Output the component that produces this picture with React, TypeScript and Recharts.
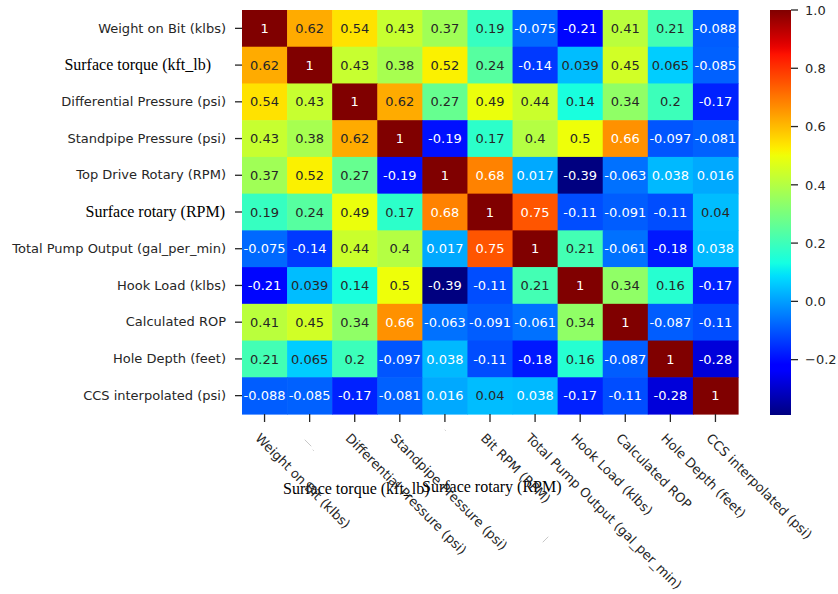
import { ScatterChart, Scatter, XAxis, YAxis, Customized } from "recharts";

const rowLabels = [
  "Weight on Bit (klbs)",
  "Surface torque (kft_lb)",
  "Differential Pressure (psi)",
  "Standpipe Pressure (psi)",
  "Top Drive Rotary (RPM)",
  "Surface rotary (RPM)",
  "Total Pump Output (gal_per_min)",
  "Hook Load (klbs)",
  "Calculated ROP",
  "Hole Depth (feet)",
  "CCS interpolated (psi)",
];

const colLabels = [
  "Weight on Bit (klbs)",
  "",
  "Differential Pressure (psi)",
  "Standpipe Pressure (psi)",
  "",
  "Bit RPM (RPM)",
  "Total Pump Output (gal_per_min)",
  "Hook Load (klbs)",
  "Calculated ROP",
  "Hole Depth (feet)",
  "CCS interpolated (psi)",
];

// rows drawn with the serif face, and where their text ends (px left of the axis)
const serifRows: Record<number, number> = { 1: 31, 5: 17 };

// labels that sit under the x axis in the serif face
const floatingLabels = [
  { text: "Surface torque (kft_lb)", x: 283, y: 494 },
  { text: "Surface rotary (RPM)", x: 422, y: 492 },
];

const corr = [
  [1, 0.62, 0.54, 0.43, 0.37, 0.19, -0.075, -0.21, 0.41, 0.21, -0.088],
  [0.62, 1, 0.43, 0.38, 0.52, 0.24, -0.14, 0.039, 0.45, 0.065, -0.085],
  [0.54, 0.43, 1, 0.62, 0.27, 0.49, 0.44, 0.14, 0.34, 0.2, -0.17],
  [0.43, 0.38, 0.62, 1, -0.19, 0.17, 0.4, 0.5, 0.66, -0.097, -0.081],
  [0.37, 0.52, 0.27, -0.19, 1, 0.68, 0.017, -0.39, -0.063, 0.038, 0.016],
  [0.19, 0.24, 0.49, 0.17, 0.68, 1, 0.75, -0.11, -0.091, -0.11, 0.04],
  [-0.075, -0.14, 0.44, 0.4, 0.017, 0.75, 1, 0.21, -0.061, -0.18, 0.038],
  [-0.21, 0.039, 0.14, 0.5, -0.39, -0.11, 0.21, 1, 0.34, 0.16, -0.17],
  [0.41, 0.45, 0.34, 0.66, -0.063, -0.091, -0.061, 0.34, 1, -0.087, -0.11],
  [0.21, 0.065, 0.2, -0.097, 0.038, -0.11, -0.18, 0.16, -0.087, 1, -0.28],
  [-0.088, -0.085, -0.17, -0.081, 0.016, 0.04, 0.038, -0.17, -0.11, -0.28, 1],
];

const colorbarTicks = [1.0, 0.8, 0.6, 0.4, 0.2, 0.0, -0.2];

const VMIN = -0.39;
const VMAX = 1;

const W = 838;
const H = 594;
const M = { top: 10, right: 100, bottom: 0, left: 0 };
const Y_AXIS_W = 242;
const X_AXIS_H = 180;
const PLOT_W = W - M.left - M.right - Y_AXIS_W;
const PLOT_H = H - M.top - M.bottom - X_AXIS_H;
const N = rowLabels.length;
const CELL_W = PLOT_W / N;
const CELL_H = PLOT_H / N;

const INK = "#262626";
const SANS = "DejaVu Sans, sans-serif";
const SERIF = "Liberation Serif, Times New Roman, serif";
const FS = 13;

// matplotlib "jet" segment data
const JET: Record<string, number[][]> = {
  r: [[0, 0], [0.35, 0], [0.66, 1], [0.89, 1], [1, 0.5]],
  g: [[0, 0], [0.125, 0], [0.375, 1], [0.64, 1], [0.91, 0], [1, 0]],
  b: [[0, 0.5], [0.11, 1], [0.34, 1], [0.65, 0], [1, 0]],
};

function seg(pts: number[][], x: number) {
  for (let i = 1; i < pts.length; i++) {
    if (x <= pts[i][0]) {
      const [x0, y0] = pts[i - 1];
      const [x1, y1] = pts[i];
      return y0 + ((x - x0) / (x1 - x0)) * (y1 - y0);
    }
  }
  return pts[pts.length - 1][1];
}

function jetAt(x: number) {
  return [seg(JET.r, x), seg(JET.g, x), seg(JET.b, x)];
}

function colorFor(v: number) {
  const t = (v - VMIN) / (VMAX - VMIN);
  const idx = Math.min(255, Math.max(0, Math.floor(t * 256)));
  return jetAt(idx / 255);
}

const toCss = (c: number[]) =>
  `rgb(${c.map((k) => Math.round(k * 255)).join(",")})`;

function luminance(c: number[]) {
  const lin = c.map((k) => (k <= 0.03928 ? k / 12.92 : Math.pow((k + 0.055) / 1.055, 2.4)));
  return 0.2126 * lin[0] + 0.7152 * lin[1] + 0.0722 * lin[2];
}

const fmt = (v: number) => String(Number(v.toPrecision(2)));

const cells = corr.flatMap((row, r) =>
  row.map((v, c) => ({ x: c + 0.5, y: r + 0.5, v }))
);

const ticks = rowLabels.map((_, i) => i + 0.5);

function Cell(props: any) {
  const { cx, cy, payload } = props;
  const col = colorFor(payload.v);
  const textFill = luminance(col) > 0.42 ? INK : "#ffffff";
  return (
    <g>
      <rect
        x={cx - CELL_W / 2}
        y={cy - CELL_H / 2}
        width={CELL_W + 0.6}
        height={CELL_H + 0.6}
        fill={toCss(col)}
      />
      <text
        x={cx}
        y={cy}
        dy="0.36em"
        textAnchor="middle"
        fontFamily={SANS}
        fontSize={FS}
        fill={textFill}
      >
        {fmt(payload.v)}
      </text>
    </g>
  );
}

function RowTick(props: any) {
  const { x, y, payload } = props;
  const i = Math.round(payload.value - 0.5);
  const serif = serifRows[i] !== undefined;
  return (
    <g>
      <line x1={x - 7} x2={x} y1={y} y2={y} stroke={INK} strokeWidth={1.3} />
      <text
        x={serif ? x - serifRows[i] : x - 16}
        y={y}
        dy={serif ? "0.33em" : "0.32em"}
        textAnchor="end"
        fontFamily={serif ? SERIF : SANS}
        fontSize={serif ? 16 : FS}
        fill={serif ? "#000" : INK}
      >
        {rowLabels[i]}
      </text>
    </g>
  );
}

function ColTick(props: any) {
  const { x, y, payload } = props;
  const i = Math.round(payload.value - 0.5);
  const label = colLabels[i];
  return (
    <g>
      <line x1={x} x2={x} y1={y} y2={y + 8} stroke={INK} strokeWidth={1.3} />
      {label ? (
        <text
          transform={`translate(${x - 10},${y + 25}) rotate(45)`}
          fontFamily={SANS}
          fontSize={FS}
          fill={INK}
        >
          {label}
        </text>
      ) : null}
    </g>
  );
}

// colour bar to the right of the grid
const CB = { x: 770, y: M.top, w: 21, h: PLOT_H + 1 };

function ColorBar() {
  const stops = Array.from({ length: 65 }, (_, k) => k / 64);
  const yOf = (v: number) => CB.y + ((VMAX - v) / (VMAX - VMIN)) * CB.h;
  return (
    <g>
      <defs>
        <linearGradient id="jetBar" x1="0" y1="1" x2="0" y2="0">
          {stops.map((s) => (
            <stop key={s} offset={s} stopColor={toCss(jetAt(s))} />
          ))}
        </linearGradient>
      </defs>
      <rect x={CB.x} y={CB.y} width={CB.w} height={CB.h} fill="url(#jetBar)" />
      {colorbarTicks.map((t) => (
        <g key={t}>
          <line
            x1={CB.x + CB.w}
            x2={CB.x + CB.w + 7}
            y1={yOf(t)}
            y2={yOf(t)}
            stroke={INK}
            strokeWidth={1.3}
          />
          <text
            x={CB.x + CB.w + 14}
            y={yOf(t)}
            dy="0.36em"
            fontFamily={SANS}
            fontSize={FS}
            fill={INK}
          >
            {t < 0 ? `\u2212${Math.abs(t).toFixed(1)}` : t.toFixed(1)}
          </text>
        </g>
      ))}
      {floatingLabels.map((l) => (
        <text key={l.text} x={l.x} y={l.y} fontFamily={SERIF} fontSize={16} fill="#000">
          {l.text}
        </text>
      ))}
      {/* leftover specks from the hidden tick labels */}
      <g stroke="#c8c8c8" strokeWidth={1} strokeLinecap="round">
        <line x1={305} y1={440} x2={311} y2={446} />
        <line x1={313} y1={450} x2={313.5} y2={450.5} />
        <line x1={445} y1={430} x2={445.5} y2={430.5} />
        <line x1={543} y1={542} x2={548} y2={537} />
      </g>
    </g>
  );
}

export default function App() {
  return (
    <div style={{ position: "absolute", left: 0, top: 0, background: "#fff" }}>
      <ScatterChart width={W} height={H} margin={M}>
        <XAxis
          type="number"
          dataKey="x"
          domain={[0, N]}
          ticks={ticks}
          interval={0}
          height={X_AXIS_H}
          axisLine={false}
          tickLine={false}
          tickSize={0}
          tickMargin={0}
          tick={<ColTick />}
        />
        <YAxis
          type="number"
          dataKey="y"
          domain={[0, N]}
          reversed
          ticks={ticks}
          interval={0}
          width={Y_AXIS_W}
          axisLine={false}
          tickLine={false}
          tickSize={0}
          tickMargin={0}
          tick={<RowTick />}
        />
        <Scatter data={cells} shape={<Cell />} isAnimationActive={false} />
        <Customized component={ColorBar} />
      </ScatterChart>
    </div>
  );
}
